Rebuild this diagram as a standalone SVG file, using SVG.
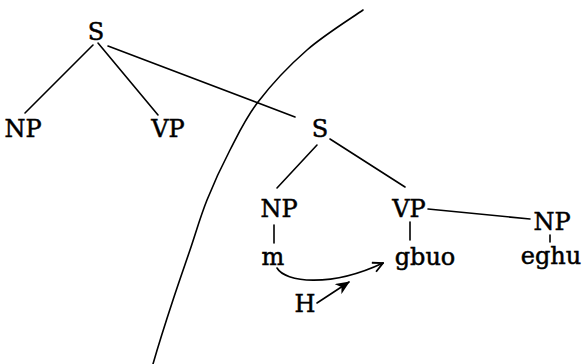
<svg xmlns="http://www.w3.org/2000/svg" width="587" height="364" viewBox="0 0 587 364">
<defs>
<style>
.t{font-family:"DejaVu Serif","Liberation Serif",serif;font-size:24px;fill:#000;stroke:#000;stroke-width:0.5;text-anchor:middle}
.l{fill:none;stroke:#000;stroke-width:1.6;stroke-linecap:round}
</style>
<marker id="open" viewBox="0 0 12 12" refX="11" refY="6" markerWidth="12" markerHeight="12" markerUnits="userSpaceOnUse" orient="auto">
<path d="M1,1 L11,6 L1,11" fill="none" stroke="#000" stroke-width="1.8"/>
</marker>
<marker id="solid" viewBox="0 0 14 12" refX="13" refY="6" markerWidth="14" markerHeight="12" markerUnits="userSpaceOnUse" orient="auto">
<path d="M0,0 L14,6 L0,12 L4,6 Z" fill="#000"/>
</marker>
</defs>
<path class="l" d="M363,10 C353.7,16.7 324.5,34.7 307,50 C289.5,65.3 270.8,85.3 258,102 C245.2,118.7 238.5,133.7 230,150 C221.5,166.3 213.7,183.3 207,200 C200.3,216.7 195.7,233.3 190,250 C184.3,266.7 179.2,281.2 173,300 C166.8,318.8 156.3,352.5 153,364"/>
<g id="connectors">
<line class="l" x1="93" y1="45" x2="25" y2="113"/>
<line class="l" x1="98" y1="43" x2="158" y2="115"/>
<line class="l" x1="108" y1="46" x2="295" y2="117"/>
<line class="l" x1="317" y1="145" x2="277" y2="188"/>
<line class="l" x1="330" y1="139" x2="405" y2="187"/>
<line class="l" x1="274" y1="225" x2="274" y2="243"/>
<line class="l" x1="410" y1="222" x2="410" y2="240"/>
<path class="l" d="M428,209 Q480,214 530,219"/>
<line class="l" x1="550" y1="235" x2="550" y2="242"/>
<path class="l" d="M277,268 C285,282 330,288 383,263" marker-end="url(#open)"/>
<line class="l" x1="317" y1="303" x2="349" y2="282" marker-end="url(#solid)"/>
</g>
<g id="s1"><text class="t" x="96" y="40">S</text></g>
<g id="np1"><text class="t" x="23" y="137">NP</text></g>
<g id="vp1"><text class="t" x="168" y="137">VP</text></g>
<g id="s2"><text class="t" x="320" y="137">S</text></g>
<g id="np2"><text class="t" x="279" y="217">NP</text></g>
<g id="vp2"><text class="t" x="409" y="217">VP</text></g>
<g id="np3"><text class="t" x="552" y="230">NP</text></g>
<g id="m"><text class="t" x="273" y="265">m</text></g>
<g id="gbuo"><text class="t" x="425" y="265">gbuo</text></g>
<g id="eghu"><text class="t" x="551" y="264">eghu</text></g>
<g id="h"><text class="t" x="305" y="312">H</text></g>
</svg>
